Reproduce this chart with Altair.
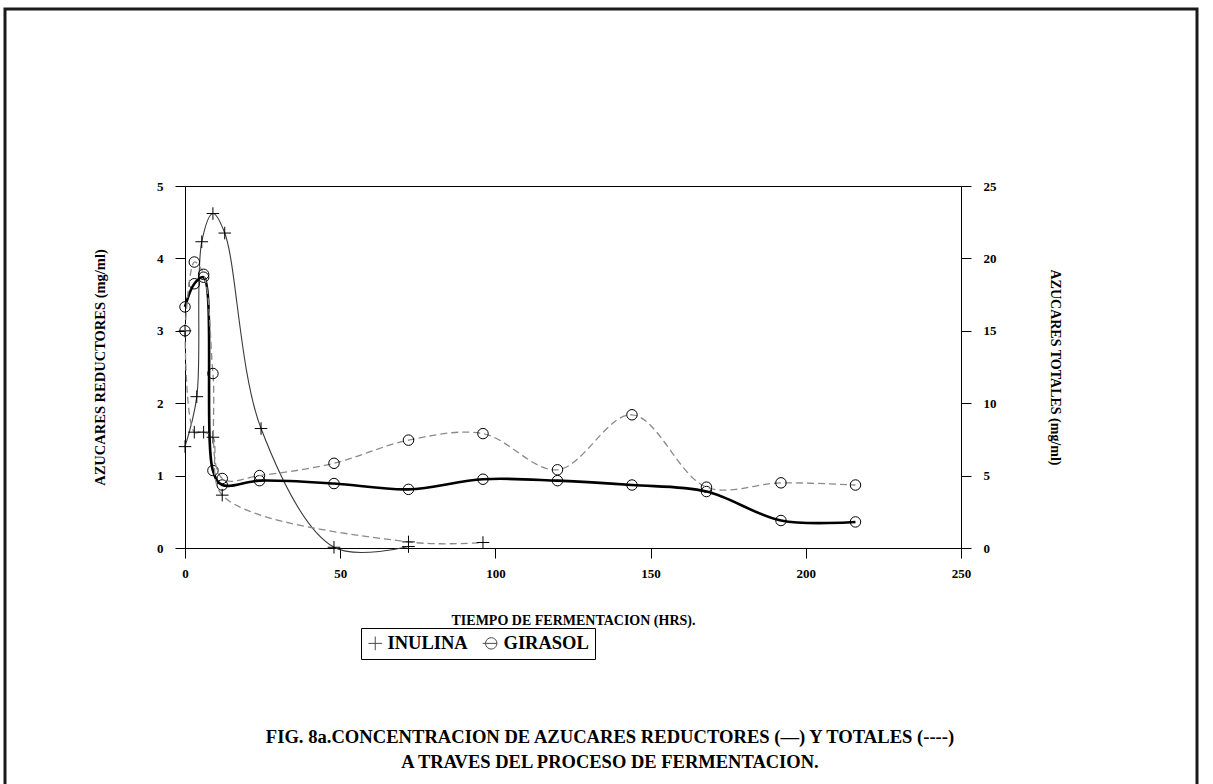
import altair as alt
import pandas as pd

# ---------------- data ----------------
series_names = ["INULINA", "GIRASOL"]

hours_gir = [0, 3, 6, 9, 12, 24, 48, 72, 96, 120, 144, 168, 192, 216]
gir_red = [3.33, 3.65, 3.74, 1.07, 0.87, 0.93, 0.89, 0.81, 0.95, 0.93, 0.87, 0.78, 0.38, 0.36]
gir_tot = [15.0, 19.75, 18.9, 12.05, 4.8, 5.0, 5.85, 7.45, 7.9, 5.4, 9.2, 4.2, 4.5, 4.35]

hours_inu_red = [0, 3.8, 5.4, 9, 12.8, 24.5, 48, 72]
inu_red = [1.40, 2.09, 4.23, 4.62, 4.35, 1.65, 0.01, 0.02]
hours_inu_tot = [0, 3, 6, 9, 12, 72, 96]
inu_tot = [15.0, 8.0, 8.0, 7.65, 3.65, 0.42, 0.38]

x_ticks = [0, 50, 100, 150, 200, 250]
left_ticks = [0, 1, 2, 3, 4, 5]
right_ticks = [0, 5, 10, 15, 20, 25]

x_title = "TIEMPO DE FERMENTACION (HRS)."
left_title = "AZUCARES REDUCTORES (mg/ml)"
right_title = "AZUCARES TOTALES (mg/ml)"
caption_line1 = ["FIG. 8a.CONCENTRACION DE AZUCARES REDUCTORES (\u2014) Y TOTALES (----)"]
caption_line2 = ["A TRAVES DEL PROCESO DE FERMENTACION."]

red_df = pd.DataFrame({
    "Serie": ["INULINA"] * len(hours_inu_red) + ["GIRASOL"] * len(hours_gir),
    "h": hours_inu_red + hours_gir,
    "v": inu_red + gir_red,
})
tot_df = pd.DataFrame({
    "Serie": ["INULINA"] * len(hours_inu_tot) + ["GIRASOL"] * len(hours_gir),
    "h": hours_inu_tot + hours_gir,
    "v": inu_tot + gir_tot,
})

FONT = "Liberation Serif"
PLUS = "M-1.2,0L1.2,0M0,-1.2L0,1.2"
CIRC_BAR = "M-1,0A1,1,0,1,1,1,0A1,1,0,1,1,-1,0M-1.5,0L1,0"

W, H = 776, 362
PAD = {"left": 185, "top": 186, "right": 1213 - 185 - W, "bottom": 784 - 186 - H}

X = alt.X("h:Q", scale=alt.Scale(domain=[0, 250], nice=False),
          axis=alt.Axis(title=x_title, values=x_ticks, tickSize=10, labelPadding=9,
                        labelFlush=False, titleX=W / 2, titleY=72, titleBaseline="middle",
                        titleAlign="center", titleFontSize=14))
legend_shape = alt.Shape(
    "Serie:N", scale=alt.Scale(domain=series_names, range=[PLUS, CIRC_BAR]),
    legend=alt.Legend(
        orient="none", legendX=176, legendY=442, direction="horizontal", title=None,
        strokeColor="black", padding=6, labelFont=FONT, labelFontSize=18.5,
        labelFontWeight="bold", labelColor="black", symbolSize=130,
        symbolStrokeColor="black", symbolStrokeWidth=1, symbolFillColor="transparent",
        symbolOffset=-1, columnPadding=12, labelOffset=3))

YL = alt.Y("v:Q", scale=alt.Scale(domain=[0, 5], nice=False),
           axis=alt.Axis(title=left_title, orient="left", values=left_ticks, tickSize=10,
                         labelPadding=12, labelFlush=False, titleX=-85, titleY=H / 2,
                         titleAngle=270, titleAlign="center", titleBaseline="middle",
                         titleFontSize=14.5))
YR = alt.Y("v:Q", scale=alt.Scale(domain=[0, 25], nice=False),
           axis=alt.Axis(title=right_title, orient="right", values=right_ticks, tickSize=10,
                         labelPadding=12, labelFlush=False, titleX=93, titleY=H / 2,
                         titleAngle=90, titleAlign="center", titleBaseline="middle",
                         titleFontSize=14))


def series_layers(base, y, name, shape, line_kw):
    sub = base.transform_filter(alt.datum.Serie == name)
    return [
        sub.mark_line(interpolate="catmull-rom", **line_kw).encode(x=X, y=y),
        sub.mark_point(filled=False, color="black", strokeWidth=1, size=110, opacity=1,
                       shape=shape).encode(x=X, y=y),
    ]


red = alt.Chart(red_df)
tot = alt.Chart(tot_df)
dash_kw = dict(color="#8a8a8a", strokeWidth=1.3, strokeDash=[7, 4])
left = alt.layer(
    *series_layers(red, YL, "INULINA", PLUS, dict(color="#3a3a3a", strokeWidth=1.1)),
    *series_layers(red, YL, "GIRASOL", "circle", dict(color="black", strokeWidth=2.6)),
    # legend carrier: no marks drawn, the legend comes from the fixed shape domain
    red.transform_filter("datum.h < 0").mark_point(
        filled=False, color="black", strokeWidth=1).encode(x=X, y=YL, shape=legend_shape),
)
right = alt.layer(
    *series_layers(tot, YR, "INULINA", PLUS, dash_kw),
    *series_layers(tot, YR, "GIRASOL", "circle", dash_kw),
)

cap1 = alt.Chart(pd.DataFrame({"t": caption_line1})).mark_text(
    font=FONT, fontSize=18.6, fontWeight="bold", color="black", align="center",
    baseline="middle").encode(text="t:N", x=alt.value(425), y=alt.value(551))
cap2 = alt.Chart(pd.DataFrame({"t": caption_line2})).mark_text(
    font=FONT, fontSize=18.5, fontWeight="bold", color="black", align="center",
    baseline="middle").encode(text="t:N", x=alt.value(425), y=alt.value(576))
border = alt.Chart(pd.DataFrame({"t": [""]})).mark_rect(
    fillOpacity=0, stroke="#1a1a1a", strokeWidth=3).encode(
    x=alt.value(-180), x2=alt.value(1012), y=alt.value(-177), y2=alt.value(640))

chart = alt.layer(border, left, right, cap1, cap2).resolve_scale(y="independent").properties(
    width=W, height=H, padding=PAD, autosize=alt.AutoSizeParams(type="none"),
    background="white"
).configure_view(stroke="black", strokeWidth=1).configure_axis(
    grid=False, domainColor="black", tickColor="black", labelColor="black",
    titleColor="black", labelFont=FONT, labelFontSize=13, labelFontWeight="bold",
    titleFont=FONT, titleFontSize=11, titleFontWeight="bold", labelOverlap=False
).configure_legend(strokeWidth=1)

chart.save("out.html", embed_options={"renderer": "svg", "actions": False})
